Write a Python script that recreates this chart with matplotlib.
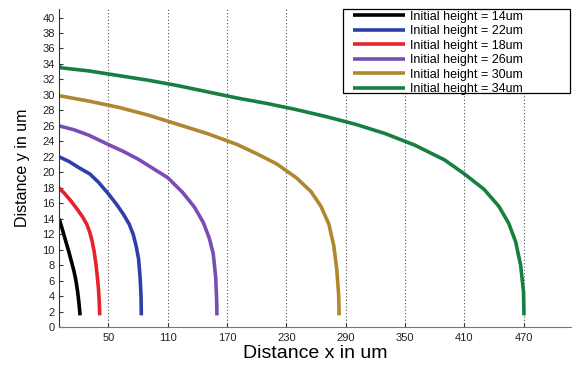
import matplotlib
matplotlib.use("Agg")
import matplotlib.pyplot as plt
from matplotlib.patches import Rectangle

plt.rcParams['font.family'] = ['Liberation Sans', 'DejaVu Sans']

labels = ["Initial height = 14um", "Initial height = 22um", "Initial height = 18um",
          "Initial height = 26um", "Initial height = 30um", "Initial height = 34um"]
colors = ["#000000", "#2e40a8", "#e8222a", "#7a4db4", "#b0872e", "#178040"]

x14 = [0, 2.5, 5, 7.5, 10, 12.5, 15, 17, 18.8, 20.2, 21, 21.3]
y14 = [14, 13.0, 11.9, 10.8, 9.7, 8.5, 7.3, 6.1, 4.6, 3.1, 2.0, 1.5]

x22 = [0, 10, 20, 31, 40, 50, 58, 65, 71, 75, 78, 80.5, 82, 83, 83.3]
y22 = [22, 21.4, 20.6, 19.8, 18.7, 17.2, 15.9, 14.6, 13.3, 12.0, 10.5, 8.8, 6.5, 4.0, 1.5]

x18 = [0, 6, 12, 18, 24, 28, 31, 33.5, 35.5, 37.3, 38.8, 40, 40.8, 41.2]
y18 = [18, 17.2, 16.3, 15.3, 14.2, 13.3, 12.3, 11.1, 9.8, 8.2, 6.5, 4.8, 3.1, 1.5]

x26 = [0, 15, 30, 48, 65, 80, 95, 110, 125, 137, 146, 152, 156, 158.5, 159.5, 159.8]
y26 = [26, 25.5, 24.8, 23.7, 22.7, 21.7, 20.5, 19.3, 17.4, 15.5, 13.5, 11.5, 9.5, 6.5, 3.5, 1.5]

x30 = [0, 30, 60, 90, 120, 150, 180, 200, 220, 240, 255, 265, 273, 278, 281, 283, 283.4]
y30 = [29.9, 29.2, 28.4, 27.4, 26.2, 25.0, 23.6, 22.4, 21.1, 19.3, 17.5, 15.6, 13.3,
       10.5, 7.5, 4.0, 1.5]

x34 = [0, 2, 30, 60, 90, 120, 150, 180, 210, 240, 270, 300, 330, 360, 390, 410, 430,
       445, 455, 462, 467, 470, 470.4]
y34 = [33.8, 33.5, 33.1, 32.5, 31.9, 31.2, 30.4, 29.6, 28.9, 28.1, 27.2, 26.2, 25.0,
       23.5, 21.6, 19.8, 17.8, 15.6, 13.4, 11.0, 8.0, 4.5, 1.5]

series_x = [x14, x22, x18, x26, x30, x34]
series_y = [y14, y22, y18, y26, y30, y34]

xticks = [50, 110, 170, 230, 290, 350, 410, 470]
yticks = list(range(0, 41, 2))

fig = plt.figure(figsize=(5.72, 3.65), dpi=100)
ax = fig.add_axes([59/572, 38/365, 513/572, 318/365])

handles = []
for xs, ys, c, lab in zip(series_x, series_y, colors, labels):
    h, = ax.plot(xs, ys, color=c, lw=2.6, label=lab, solid_capstyle='butt',
                 solid_joinstyle='round')
    handles.append(h)

ax.set_xlim(0, 519)
ax.set_ylim(0, 41.1)
ax.set_xticks(xticks)
ax.set_yticks(yticks)
ax.tick_params(axis='both', direction='in', labelsize=8, length=3, width=0.8,
               color='#333333', labelcolor='#222222')
ax.tick_params(axis='y', pad=3)
ax.tick_params(axis='x', pad=4)
ax.xaxis.grid(True, linestyle=(0, (1, 2)), color='#555555', lw=0.8)
ax.spines['top'].set_visible(False)
ax.spines['right'].set_visible(False)
ax.spines['left'].set_color('#333333')
ax.spines['bottom'].set_color('#777777')

ax.set_xlabel("Distance x in um", fontsize=14, labelpad=2)
ax.set_ylabel("Distance y in um", fontsize=11.5, labelpad=9)

# legend box (MATLAB style, with extra space on the right)
box = Rectangle((343/572, 1 - 93/365), 227/572, 84/365, transform=fig.transFigure,
                facecolor='white', edgecolor='black', lw=0.9, zorder=3)
fig.patches.append(box)

leg = fig.legend(handles, labels, loc='upper left',
                 bbox_to_anchor=(352/572, 1 - 9.5/365),
                 bbox_transform=fig.transFigure, fontsize=9, frameon=False,
                 borderaxespad=0, handlelength=4.1, handletextpad=0.4,
                 labelspacing=0.2, borderpad=0.1)
leg.set_zorder(4)
for line in leg.get_lines():
    line.set_linewidth(2.6)

fig.savefig("out.png", dpi=100)
